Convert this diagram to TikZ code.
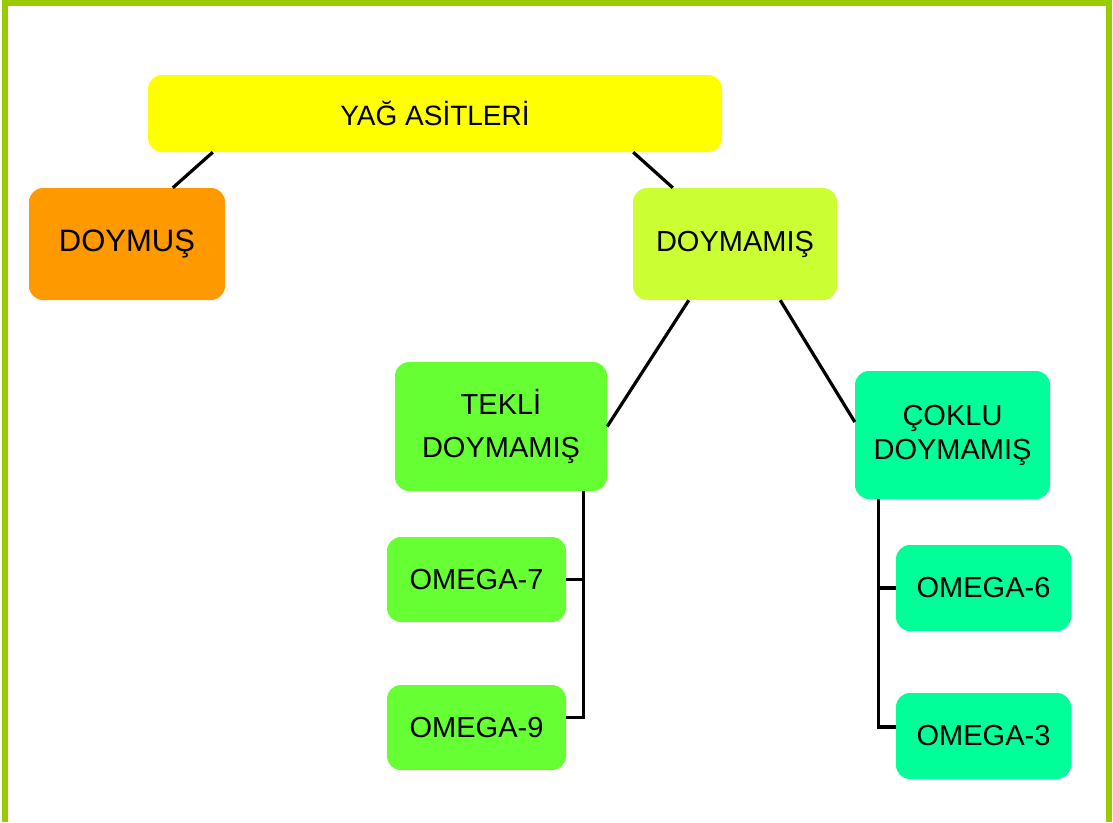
\documentclass[tikz,border=0pt]{standalone}
\usepackage{fontspec}
\setmainfont{Liberation Sans}
\definecolor{framegreen}{HTML}{99CC00}
\definecolor{yagyellow}{HTML}{FFFF00}
\definecolor{doymusorange}{HTML}{FF9900}
\definecolor{doymamislime}{HTML}{CCFF33}
\definecolor{tekligreen}{HTML}{66FF33}
\definecolor{coklumint}{HTML}{00FF99}
\begin{document}
\begin{tikzpicture}[x=1pt,y=-1pt]
\useasboundingbox (0,0) rectangle (1113,822);
\begin{scope}[every node/.style={font=\fontsize{29}{36}\selectfont, inner sep=0pt, align=center, text=black},
  box/.style={rounded corners=14pt},
  link/.style={line width=3.2pt, black}]

\draw [framegreen, line width=6pt] (4.5,822) -- (4.5,2.5) -- (1109,2.5) -- (1109,822);

\node [box,fill=yagyellow,minimum width=574pt,minimum height=77pt,font=\fontsize{28}{34}\selectfont] (yag) at (435,113.5) {YAĞ ASİTLERİ};
\node [box,fill=doymusorange,minimum width=196pt,minimum height=112pt,font=\fontsize{31}{36}\selectfont] (doymus) at (127,244) {DOYMUŞ};
\node [box,fill=doymamislime,minimum width=204pt,minimum height=112pt] (doymamis) at (735,244) {DOYMAMIŞ};

\node [box,fill=tekligreen,minimum width=212pt,minimum height=129pt,font=\fontsize{29}{43}\selectfont] (tekli) at (501,426.5) {TEKLİ\\DOYMAMIŞ};
\node [box,fill=coklumint,minimum width=195pt,minimum height=128pt,font=\fontsize{29}{34}\selectfont] (coklu) at (952.5,435) {ÇOKLU\\DOYMAMIŞ};

\node [box,fill=tekligreen,minimum width=179pt,minimum height=85pt] (om7) at (476.5,579.5) {OMEGA-7};
\node [box,fill=tekligreen,minimum width=179pt,minimum height=85pt] (om9) at (476.5,727.5) {OMEGA-9};
\node [box,fill=coklumint,minimum width=175pt,minimum height=86pt] (om6) at (983.5,588) {OMEGA-6};
\node [box,fill=coklumint,minimum width=175pt,minimum height=86pt] (om3) at (983.5,736) {OMEGA-3};

\draw [link] ([xshift=65]yag.south west) -- ([xshift=144]doymus.north west);
\draw [link] ([xshift=-89]yag.south east) -- ([xshift=40]doymamis.north west);
\draw [link] ([xshift=56]doymamis.south west) -- (tekli.east);
\draw [link] ([xshift=-57]doymamis.south east) -- ([yshift=13]coklu.west);

\draw [link] ([xshift=-24]tekli.south east) |- (om7.east);
\draw [link] ([xshift=-24]tekli.south east) |- ([yshift=10]om9.east);
\draw [link] ([xshift=24]coklu.south west) |- (om6.west);
\draw [link] ([xshift=24]coklu.south west) |- ([yshift=9]om3.west);

\end{scope}
\end{tikzpicture}
\end{document}
